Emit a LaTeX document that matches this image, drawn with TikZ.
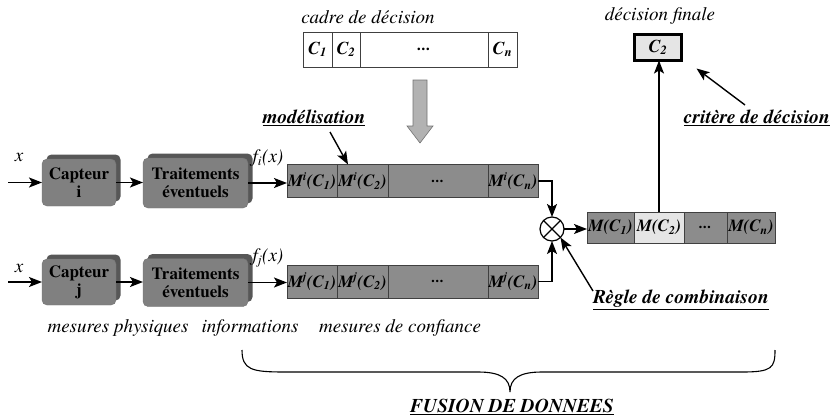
\documentclass[tikz,border=0pt]{standalone}
\usepackage{fontspec}
\setmainfont{TeX Gyre Termes}
\usetikzlibrary{arrows.meta,shadows}
\begin{document}
\begin{tikzpicture}
[
 x=1pt, y=-1pt,
 inner sep=0pt, outer sep=0pt,
 ARR/.style={-{Stealth[length=13pt,width=10pt,inset=3pt]}, line width=1.4pt},
 CAPT/.style={rectangle, rounded corners=5pt, fill=black!50, draw=black!55,
   font=\fontsize{17}{18}\selectfont\bfseries, align=center,
   drop shadow={shadow xshift=4.5pt, shadow yshift=4.5pt, fill=black!66, opacity=1}},
 CELL/.style={rectangle, draw=black!75, fill=black!45, line width=0.8pt,
   minimum height=33pt, font=\fontsize{17}{18}\selectfont\bfseries\itshape},
 RCELL/.style={CELL, minimum height=31pt},
 WCELL/.style={rectangle, draw=black!75, fill=white, line width=0.8pt,
   minimum height=35pt, font=\fontsize{18}{19}\selectfont\bfseries\itshape},
 LBL/.style={font=\fontsize{19}{20}\selectfont\itshape},
 ULBL/.style={font=\fontsize{19.5}{20}\selectfont\bfseries\itshape},
 ]
%
\useasboundingbox (0,0) rectangle (833,418);
%
% capteurs et traitements
\node [CAPT, minimum width=74pt, minimum height=47pt]  (capi)  at ( 79,182.5) {Capteur\\i};
\node [CAPT, minimum width=105pt, minimum height=50pt] (trti)  at (195.5,183) {Traitements\\éventuels};
\node [CAPT, minimum width=74pt, minimum height=46pt]  (capj)  at ( 79,282) {Capteur\\j};
\node [CAPT, minimum width=105pt, minimum height=48pt] (trtj)  at (195.5,282.5) {Traitements\\éventuels};
%
\coordinate (xi) at (8,182.5);
\coordinate (xj) at (8,282);
\node [LBL] (lxi) at (19,157) {x};
\node [LBL] (lxj) at (19,268) {x};
\node [LBL] (lfi) at (268,158) {f\textsubscript{i}(x)};
\node [LBL] (lfj) at (268,258) {f\textsubscript{j}(x)};
%
% mesures de confiance
\node [CELL, minimum width=50pt]  (mi1) at (312,181)   {M\textsuperscript{i}(C\textsubscript{1})};
\node [CELL, minimum width=51pt]  (mi2) at (362.5,181) {M\textsuperscript{i}(C\textsubscript{2})};
\node [CELL, minimum width=100pt] (mi3) at (438,181)   {...};
\node [CELL, minimum width=50pt]  (min) at (513,181)   {M\textsuperscript{i}(C\textsubscript{n})};
%
\node [CELL, minimum width=50pt]  (mj1) at (312,281.5)   {M\textsuperscript{j}(C\textsubscript{1})};
\node [CELL, minimum width=51pt]  (mj2) at (362.5,281.5) {M\textsuperscript{j}(C\textsubscript{2})};
\node [CELL, minimum width=100pt] (mj3) at (438,281.5)   {...};
\node [CELL, minimum width=50pt]  (mjn) at (513,281.5)   {M\textsuperscript{j}(C\textsubscript{n})};
%
% cadre de decision
\node [LBL] (lcad) at (368,17) {cadre de décision};
\node [WCELL, minimum width=29pt]  (c1) at (317.5,49.5) {C\textsubscript{1}};
\node [WCELL, minimum width=28pt]  (c2) at (346,49.5)   {C\textsubscript{2}};
\node [WCELL, minimum width=128pt] (c3) at (424,49.5)   {...};
\node [WCELL, minimum width=29pt]  (cn) at (502.5,49.5) {C\textsubscript{n}};
%
\filldraw [fill=black!30, draw=black!55, line width=0.6pt]
  (413,80) -- (427,80) -- (427,126) -- (433,126) -- (420,143)
  -- (407,126) -- (413,126) -- cycle;
%
% combinaison
\node [circle, draw, line width=1.2pt, minimum size=24pt] (comb) at (552,229) {};
\draw [line width=1.2pt] (comb.north west) -- (comb.south east);
\draw [line width=1.2pt] (comb.north east) -- (comb.south west);
%
\node [RCELL, minimum width=47pt]  (r1) at (610.5,227.5) {M(C\textsubscript{1})};
\node [RCELL, minimum width=50pt, fill=black!10]  (r2) at (659,227.5) {M(C\textsubscript{2})};
\node [RCELL, minimum width=43pt]  (r3) at (705.5,227.5) {...};
\node [RCELL, minimum width=48pt]  (rn) at (751,227.5)   {M(C\textsubscript{n})};
%
\node [LBL] (lfin) at (660,16) {décision finale};
\node [rectangle, draw, line width=3pt, fill=black!10, minimum width=47pt, minimum height=26pt,
  font=\fontsize{18}{19}\selectfont\bfseries\itshape] (fin) at (658,47.5) {C\textsubscript{2}};
%
% libelles
\node [ULBL] (lmod)  at (314,118) {\underline{modélisation}};
\node [ULBL] (lcrit) at (757,118) {\underline{critère de décision}};
\node [ULBL] (lregl) at (681,300) {\underline{Règle de combinaison}};
\coordinate (tmod)  at (330,132);
\coordinate (tcrit) at (745,105);
\coordinate (tregl) at (593,291);
%
\node [LBL] (lphy) at (118,328) {mesures physiques};
\node [LBL] (linf) at (250,328) {informations};
\node [LBL] (lconf) at (400,328) {mesures de confiance};
\node [ULBL] (lfus) at (512,407) {\underline{FUSION DE DONNEES}};
%
% fleches
\draw [ARR] (xi) -- (capi.west);
\draw [ARR] (xj) -- (capj.west);
\draw [ARR] (capi.east) -- (capi.east -| trti.west);
\draw [ARR] (capj.east) -- (capj.east -| trtj.west);
\draw [ARR] (trti.east) -- (trti.east -| mi1.west);
\draw [ARR] (trtj.east) -- (trtj.east -| mj1.west);
\draw [ARR] (min.east) -| (comb.north);
\draw [ARR] (mjn.east) -| (comb.south);
\draw [ARR] (comb.east) -- (comb.east -| r1.west);
\draw [ARR] (r2.north) -- (r2.north |- fin.south);
\draw [ARR] (tmod) -- ([xshift=11pt]mi2.north west);
\draw [ARR] (tcrit) -- ([shift={(15pt,-8pt)}]fin.south east);
\draw [ARR] (tregl) -- (comb.south east);
%
% accolade
\draw [line width=1.1pt] (242,350) .. controls (242,370) and (252,372) .. (285,372)
  -- (478,372) .. controls (500,372) and (510,378) .. (510,392)
  .. controls (510,378) and (520,372) .. (542,372)
  -- (742,372) .. controls (772,372) and (775,368) .. (775,350);
%
\end{tikzpicture}
\end{document}
